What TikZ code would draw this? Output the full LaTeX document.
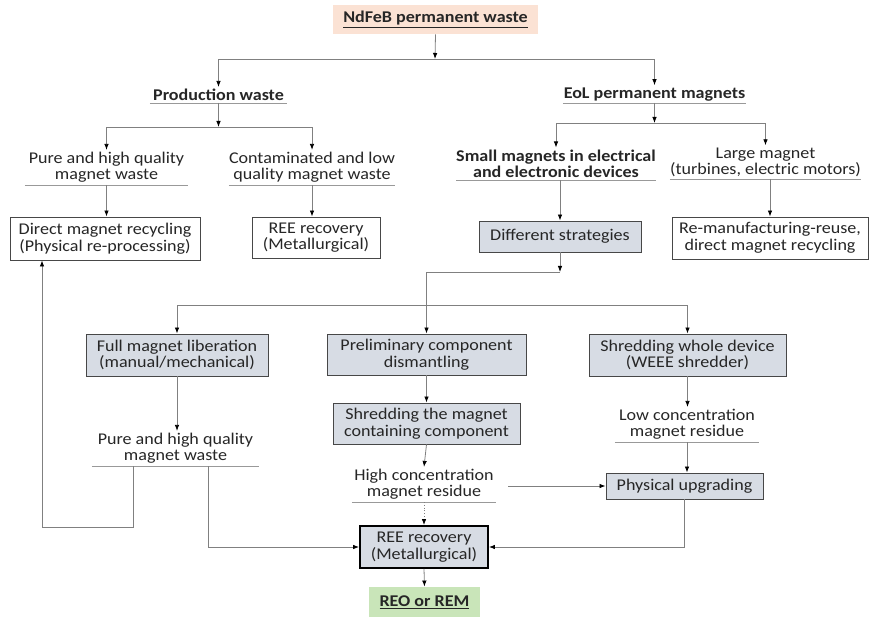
\documentclass[tikz,border=0pt]{standalone}
\usepackage{fontspec}
\setmainfont{Carlito}[FakeStretch=1.1]
\usetikzlibrary{arrows.meta}
\definecolor{peach}{HTML}{FBE2D4}
\definecolor{leaf}{HTML}{C9E5B9}
\definecolor{steel}{HTML}{D7DCE4}
\definecolor{wire}{HTML}{808080}
\definecolor{ink}{HTML}{262626}
\newcommand{\wastefont}{\fontsize{16.4}{16.5}\selectfont}
\tikzset{
    block/.style  = { rectangle, draw=ink!85, line width=0.9pt, fill=steel,
                      align=center, inner sep=1pt },
    wblock/.style = { block, fill=white },
    txt/.style    = { align=center, anchor=south, inner xsep=0pt, inner ysep=2pt },
    bold/.style   = { font=\wastefont\bfseries },
    line/.style   = { draw=wire, line width=0.8pt,
                      -{Latex[length=6pt,width=4.5pt,black]} },
    uline/.style  = { draw=wire!80, line width=0.8pt },
}

\begin{document}
\begin{tikzpicture}[x=1pt, y=-1pt, font=\wastefont, text=ink]
\useasboundingbox (0,0) rectangle (869,617);

% top of the tree
\node (waste) [block, draw=none, fill=peach, minimum width=205pt, minimum height=29pt]
      at (435.5,19.5) {\textbf{\underline{NdFeB permanent waste}}};
\node (prod)  [txt, bold, minimum width=137pt] at (218.5,103) {Production waste};
\node (eol)   [txt, bold, minimum width=183pt] at (654.5,103) {EoL permanent magnets};

% production waste branch
\node (purep) [txt, minimum width=163pt] at (106.5,185) {Pure and high quality\\magnet waste};
\node (cont)  [txt, minimum width=166pt] at (312,185) {Contaminated and low\\quality magnet waste};
\node (direct) [wblock, minimum width=190pt, minimum height=43pt] at (105,238.5)
      {Direct magnet recycling\\(Physical re-processing)};
\node (reeA)  [wblock, minimum width=128pt, minimum height=41pt] at (316,237.5)
      {REE recovery\\(Metallurgical)};

% end of life branch
\node (small) [txt, bold, minimum width=196pt] at (556,180)
      {Small magnets in electrical\\and electronic devices};
\node (large) [txt, minimum width=189pt] at (765.5,179) {Large magnet\\(turbines, electric motors)};
\node (strat) [block, minimum width=162pt, minimum height=31pt] at (560,236.5) {Different strategies};
\node (reman) [wblock, minimum width=196pt, minimum height=42pt] at (770,238)
      {Re-manufacturing-reuse,\\direct magnet recycling};

% strategies
\node (full)   [block, minimum width=182pt, minimum height=42pt] at (177,355)
      {Full magnet liberation\\(manual/mechanical)};
\node (prelim) [block, minimum width=199pt, minimum height=41pt] at (426.5,354.5)
      {Preliminary component\\dismantling};
\node (shredw) [block, minimum width=197pt, minimum height=42pt] at (687.5,355)
      {Shredding whole device\\(WEEE shredder)};
\node (pure2)  [txt, minimum width=167pt] at (175.5,466) {Pure and high quality\\magnet waste};
\node (shredm) [block, minimum width=187pt, minimum height=41pt] at (426.5,423.5)
      {Shredding the magnet\\containing component};
\node (high)   [txt, minimum width=144pt] at (424,502) {High concentration\\magnet residue};
\node (low)    [txt, minimum width=144pt] at (687,442) {Low concentration\\magnet residue};
\node (phys)   [block, minimum width=157pt, minimum height=26pt] at (684.5,486) {Physical upgrading};
\node (reeB)   [block, draw=black, line width=1.8pt, minimum width=128pt, minimum height=42pt]
      at (424,547) {REE recovery\\(Metallurgical)};
\node (reo)    [block, draw=none, fill=leaf, minimum width=111pt, minimum height=30pt]
      at (424.5,602) {\textbf{\underline{REO or REM}}};

\foreach \n in {prod,eol,purep,cont,small,large,pure2,high,low}
    \draw[uline] (\n.south west) -- (\n.south east);

% junctions
\coordinate (b1) at (435,59);
\coordinate (b2) at (218.5,127);
\coordinate (b3) at (654.5,123);
\coordinate (s1) at (560,272);
\coordinate (s2) at (426.5,305);
\coordinate (l1) at (133,527);
\coordinate (h1) at ([xshift=12pt]high.east);

% connectors
\draw[line] (waste.south) -- (b1);
\draw[line] (b1) -| (prod.north);
\draw[line] (b1) -| (eol.north);
\draw[line] (prod.south) -- (b2);
\draw[line] (b2) -| (purep.north);
\draw[line] (b2) -| (cont.north);
\draw[line] (purep.south) -- (purep.south |- direct.north);
\draw[line] (cont.south) -- (cont.south |- reeA.north);
\draw[line] (eol.south) -- (b3);
\draw[line] (b3) -| (small.north);
\draw[line] (b3) -| (large.north);
\draw[line] (small.south -| strat.north) -- (strat.north);
\draw[line] (large.south -| reman.north) -- (reman.north);
\draw[line] (strat.south) -- (s1);
\draw[line] (s1) -| (prelim.north);
\draw[line] (s2) -| (full.north);
\draw[line] (s2) -| (shredw.north);
\draw[line] (full.south) -- (full.south |- pure2.north);
\draw[line] (pure2.south -| l1) -- (l1) -| ([xshift=-63pt]direct.south);
\draw[line] ([xshift=32.5pt]pure2.south) |- (reeB.west);
\draw[line] (prelim.south) -- (shredm.north);
\draw[line] (shredm.south) -- (high.north);
\draw[line, dotted] (high.south) -- (reeB.north);
\draw[line] (h1 |- phys.west) -- (phys.west);
\draw[line] (shredw.south) -- (shredw.south |- low.north);
\draw[line] (low.south) -- (low.south |- phys.north);
\draw[line] (phys.south) |- (reeB.east);
\draw[line] (reeB.south) -- (reo.north);
\end{tikzpicture}
\end{document}
